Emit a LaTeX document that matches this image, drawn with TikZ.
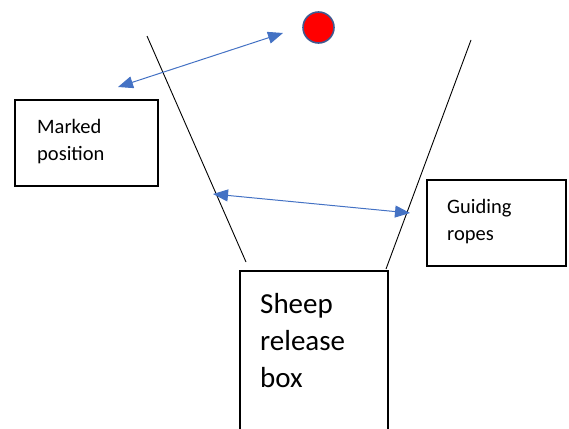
\documentclass[tikz,border=0pt]{standalone}
\usepackage{fontspec}
\setmainfont{Carlito}
\usetikzlibrary{arrows.meta}
\definecolor{arrowblue}{HTML}{4472C4}
\definecolor{ringblue}{HTML}{41598F}
\tikzset{
  boxline/.style={draw=black, line width=1.1pt},
  rope/.style={draw=black, line width=0.9pt},
  link/.style={draw=arrowblue, line width=1pt,
    {Triangle[length=15pt,width=12pt]}-{Triangle[length=15pt,width=12pt]}},
  smalltext/.style={anchor=base west, inner sep=0pt, font=\fontsize{20.5}{24}\selectfont},
  bigtext/.style={anchor=base west, inner sep=0pt, font=\fontsize{29}{34}\selectfont},
}
\begin{document}
\begin{tikzpicture}[x=1pt, y=-1pt]
\useasboundingbox (0,0) rectangle (569,428);

% target point
\node[circle, fill=red, draw=ringblue, line width=1.6pt, minimum size=31pt, inner sep=0pt] (target) at (318.5,27.5) {};

% guiding ropes
\coordinate (lropeTop) at (147,36);
\coordinate (lropeBot) at (246,262);
\coordinate (rropeTop) at (471,40);
\coordinate (rropeBot) at (386,269);
\draw[rope] (lropeTop) -- (lropeBot);
\draw[rope] (rropeTop) -- (rropeBot);

% boxes
\draw[boxline] (15,100) rectangle (158,186);
\draw[boxline] (427,180) rectangle (566,266);
\draw[boxline] (240,440) -- (240,271) -- (388,271) -- (388,440);

% labels
\node[smalltext] (marked) at (37,133) {Marked};
\node[smalltext] (position) at (37,160) {position};
\node[smalltext] (guiding) at (447,213) {Guiding};
\node[smalltext] (ropes) at (447,240) {ropes};
\node[bigtext] (sheep) at (260,313) {Sheep};
\node[bigtext] (release) at (260,350) {release};
\node[bigtext] (box) at (260,387) {box};

% distance arrows
\coordinate (dA1) at (118,87);
\coordinate (dA2) at (283,33);
\coordinate (dB1) at (213,194);
\coordinate (dB2) at (410,213);
\draw[link] (dA1) -- (dA2);
\draw[link] (dB1) -- (dB2);
\end{tikzpicture}
\end{document}
